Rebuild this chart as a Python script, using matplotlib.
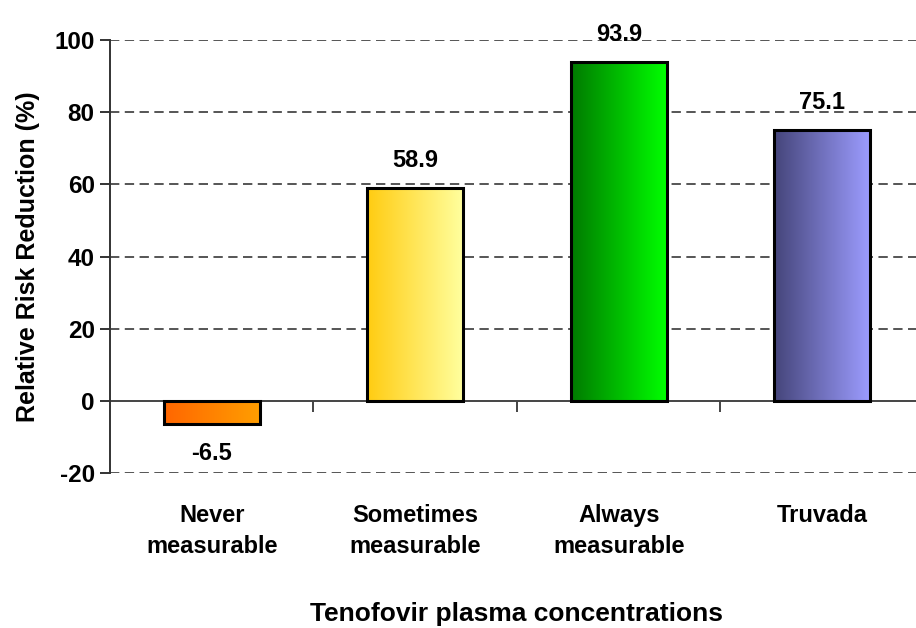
import numpy as np
import matplotlib
matplotlib.use("Agg")
import matplotlib.pyplot as plt
from matplotlib.colors import LinearSegmentedColormap

plt.rcParams['font.family'] = ['Liberation Sans', 'DejaVu Sans']
plt.rcParams['font.weight'] = 'bold'
plt.rcParams['axes.unicode_minus'] = False

categories = ["Never\nmeasurable", "Sometimes\nmeasurable", "Always\nmeasurable", "Truvada"]
values = [-6.5, 58.9, 93.9, 75.1]
value_labels = ["-6.5", "58.9", "93.9", "75.1"]
yticks = [-20, 0, 20, 40, 60, 80, 100]
gradients = [("#FF6600", "#FF9E00"),
             ("#FFCC11", "#FFFF9E"),
             ("#007A00", "#00FF00"),
             ("#45457A", "#9C9CFF")]

fig = plt.figure(figsize=(9.16, 6.28), dpi=100)
W, H = 916, 628
left, right, top, bottom = 110, 924, 40, 473
ax = fig.add_axes([left / W, 1 - bottom / H, (right - left) / W, (bottom - top) / H])

x = np.arange(len(categories))
width = 0.47

# dashed grid lines and the solid zero line
for yv in yticks:
    if yv != 0:
        ax.axhline(yv, color="#555555", lw=1.4, ls=(0, (4.8, 2.8)), zorder=1)
ax.axhline(0, color="#444444", lw=1.4, zorder=2)

grad = np.linspace(0, 1, 256).reshape(1, -1)
bars = ax.bar(x, values, width=width, facecolor="none", edgecolor="black",
              linewidth=2.2, zorder=4)
for b, (c0, c1) in zip(bars, gradients):
    cmap = LinearSegmentedColormap.from_list("g", [c0, c1])
    x0, y0 = b.get_x(), b.get_y()
    ax.imshow(grad, cmap=cmap, aspect="auto", zorder=3,
              extent=(x0, x0 + b.get_width(), y0, y0 + b.get_height()),
              interpolation="bicubic")
ax.set_xlim(-0.5, len(categories) - 0.5)
ax.set_ylim(-20, 100)

for xi, v, lab in zip(x, values, value_labels):
    ax.annotate(lab, (xi, v), xytext=(0, 15 if v >= 0 else -13), textcoords="offset points",
                ha="center", va="baseline" if v >= 0 else "top",
                fontsize=17, fontweight="bold", zorder=5)

# axes styling
for s in ["top", "right", "bottom"]:
    ax.spines[s].set_visible(False)
ax.spines["left"].set_color("#333333")
ax.spines["left"].set_linewidth(1.4)
ax.set_yticks(yticks)
ax.tick_params(axis="y", direction="out", length=7, width=1.4, color="#333333",
               labelsize=17.5, pad=4)
ax.set_xticks(x)
ax.set_xticklabels(categories, fontsize=17, fontweight="bold", linespacing=1.45)
ax.tick_params(axis="x", length=0, pad=22)
for t in ax.get_yticklabels():
    t.set_fontweight("bold")

# category separator ticks along the zero line
sec = ax.secondary_xaxis(20 / 120)
sec.spines["bottom"].set_visible(False)
sec.set_xticks(x[:-1] + 0.5)
sec.set_xticklabels([])
sec.tick_params(axis="x", direction="out", length=8, width=1.4, color="#444444")

ax.set_ylabel("Relative Risk Reduction (%)", fontsize=18, fontweight="bold", labelpad=10)
ax.set_xlabel("Tenofovir plasma concentrations", fontsize=19, fontweight="bold", labelpad=32)

fig.savefig("out.png", dpi=100)
